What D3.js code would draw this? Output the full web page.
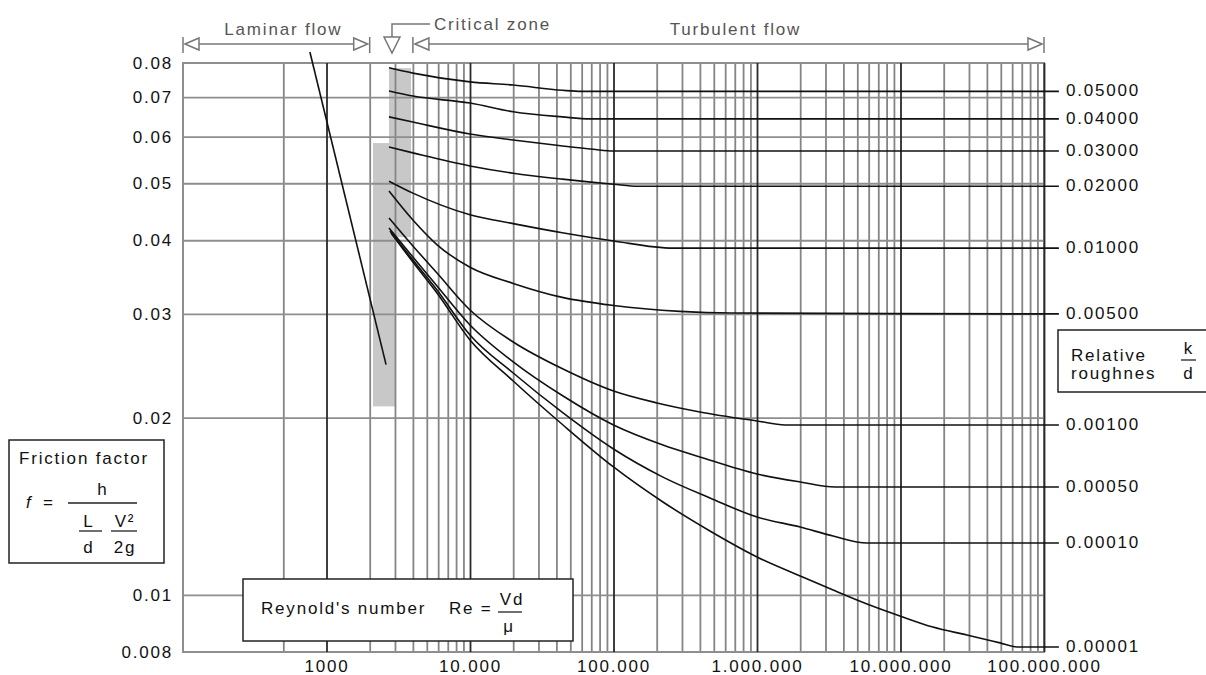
<!DOCTYPE html>
<html>
<head>
<meta charset="utf-8">
<script src="https://cdnjs.cloudflare.com/ajax/libs/d3/7.8.5/d3.min.js"></script>
<style>
  body { margin: 0; background: #fff; }
  svg text {
    font-family: "Liberation Sans", Arial, sans-serif;
    font-size: 17px;
    letter-spacing: 1.8px;
    fill: #111;
  }
  svg text.note { fill: #555; }
</style>
</head>
<body>
<div id="wrapper"></div>
<script>
// Moody diagram: friction factor against Reynold's number

const xTickValues = [1e3, 1e4, 1e5, 1e6, 1e7, 1e8]
const xTickLabels = ["1000", "10.000", "100.000", "1.000.000", "10.000.000", "100.000.000"]
const yTickValues = [0.008, 0.01, 0.02, 0.03, 0.04, 0.05, 0.06, 0.07, 0.08]
const yTickLabels = ["0.008", "0.01", "0.02", "0.03", "0.04", "0.05", "0.06", "0.07", "0.08"]
const gridDecades = [1e3, 1e4, 1e5, 1e6, 1e7]
const gridSteps = [2, 3, 4, 5, 6, 7, 8, 9]

const roughnessLabels = ["0.05000", "0.04000", "0.03000", "0.02000", "0.01000",
  "0.00500", "0.00100", "0.00050", "0.00010", "0.00001"]

// [Re, f]
const curve05000 = [[2726, 0.0785], [4000, 0.0769], [10000, 0.0743], [20000, 0.0734],
  [44000, 0.0719], [60000, 0.0716], [1.27e8, 0.0716]]
const curve04000 = [[2726, 0.0717], [4000, 0.0703], [10000, 0.0684], [20000, 0.0661],
  [44000, 0.0648], [68600, 0.0643], [1.27e8, 0.0643]]
const curve03000 = [[2726, 0.0648], [4000, 0.0635], [10000, 0.0606], [20000, 0.0592],
  [40400, 0.0580], [72000, 0.0571], [100000, 0.0567], [1.27e8, 0.0567]]
const curve02000 = [[2726, 0.0576], [4000, 0.0563], [10000, 0.0535], [20000, 0.0520],
  [44000, 0.0508], [100000, 0.0498], [148000, 0.0494], [1.27e8, 0.0494]]
const curve01000 = [[2726, 0.0504], [4000, 0.0481], [10000, 0.0442], [20000, 0.0427],
  [44000, 0.0412], [100000, 0.0399], [260000, 0.0388], [1.27e8, 0.0388]]
const curve00500 = [[2726, 0.0485], [4000, 0.0433], [5900, 0.0393], [10000, 0.0360],
  [20000, 0.0338], [44000, 0.0320], [100000, 0.0310], [290000, 0.0303],
  [670000, 0.0301], [1.27e8, 0.0300]]
const curve00100 = [[2726, 0.04365], [4000, 0.03913], [5890, 0.03520], [10000, 0.03046],
  [20000, 0.02688], [44500, 0.02418], [100000, 0.02219], [201000, 0.02118],
  [400000, 0.02045], [1000000, 0.01974], [1570000, 0.01943], [1.27e8, 0.01943]]
const curve00050 = [[2726, 0.04197], [4000, 0.03747], [5890, 0.03346], [10000, 0.02873],
  [20000, 0.02487], [44500, 0.02176], [100000, 0.01943], [221000, 0.01797],
  [400000, 0.01715], [1000000, 0.01604], [2000000, 0.01555], [3500000, 0.01525],
  [1.27e8, 0.01525]]
const curve00010 = [[2770, 0.04148], [4000, 0.03703], [5890, 0.03294], [10000, 0.02762],
  [20000, 0.02381], [44500, 0.02037], [100000, 0.01769], [221000, 0.01585],
  [470000, 0.01461], [1000000, 0.01356], [2000000, 0.01304], [3390000, 0.01259],
  [5840000, 0.01225], [1.27e8, 0.01225]]
const curve00001 = [[2816, 0.04116], [4000, 0.03674], [5890, 0.03255], [10000, 0.02709],
  [20000, 0.02308], [44500, 0.01943], [100000, 0.01649], [221000, 0.01438],
  [470000, 0.01284], [1000000, 0.01160], [2000000, 0.01077], [3390000, 0.01019],
  [5840000, 0.00965], [9900000, 0.00921], [16800000, 0.00882], [29000000, 0.00855],
  [49400000, 0.00829], [64800000, 0.00816], [1.27e8, 0.00816]]

const laminar = [[766, 0.0835], [2600, 0.0246]]

// [Re from, Re to, f low, f high]
const criticalZones = [[2110, 3050, 0.0209, 0.0585], [2726, 3880, 0.0405, 0.0784]]

const flowRegions = [
  {label: "Laminar flow", from: 100, to: 2000},
  {label: "Turbulent flow", from: 4000, to: 1e8},
]
const criticalAt = 2860

function drawChart() {

  // 1. Dimensions
  let dimensions = {
    width: 1206,
    height: 675,
    margin: {top: 63, right: 162, bottom: 23, left: 183},
  }
  dimensions.boundedWidth = dimensions.width - dimensions.margin.left - dimensions.margin.right
  dimensions.boundedHeight = dimensions.height - dimensions.margin.top - dimensions.margin.bottom

  // 2. Canvas
  const wrapper = d3.select("#wrapper")
    .append("svg")
      .attr("width", dimensions.width)
      .attr("height", dimensions.height)

  const bounds = wrapper.append("g")
      .attr("transform", `translate(${dimensions.margin.left},${dimensions.margin.top})`)

  // 3. Scales
  const xScale = d3.scaleLog()
    .domain([100, 1e8])
    .range([0, dimensions.boundedWidth])

  const yScale = d3.scaleLog()
    .domain([0.008, 0.08])
    .range([dimensions.boundedHeight, 0])

  // 4. Critical zone shading (under the grid)
  bounds.selectAll(".zone")
    .data(criticalZones)
    .join("rect")
      .attr("class", "zone")
      .attr("x", d => xScale(d[0]))
      .attr("width", d => xScale(d[1]) - xScale(d[0]))
      .attr("y", d => yScale(d[3]))
      .attr("height", d => yScale(d[2]) - yScale(d[3]))
      .attr("fill", "#c8c8c8")

  // 5. Grid
  const minorValues = [500].concat(d3.merge(gridDecades.map(d => gridSteps.map(s => s * d))))

  const vGrid = bounds.append("g")
      .attr("transform", `translate(0,${dimensions.boundedHeight})`)
      .call(d3.axisBottom(xScale).tickValues(minorValues).tickSize(-dimensions.boundedHeight).tickFormat(""))
  vGrid.select(".domain").remove()
  vGrid.selectAll("line").attr("stroke", "#858585").attr("stroke-width", 1.8)

  const hGrid = bounds.append("g")
      .call(d3.axisLeft(yScale).tickValues(yTickValues.slice(1, -1)).tickSize(-dimensions.boundedWidth).tickFormat(""))
  hGrid.select(".domain").remove()
  hGrid.selectAll("line").attr("stroke", "#8e8e8e").attr("stroke-width", 1.9)

  bounds.append("rect")
      .attr("width", dimensions.boundedWidth)
      .attr("height", dimensions.boundedHeight)
      .attr("fill", "none")
      .attr("stroke", "#8e8e8e")
      .attr("stroke-width", 2)

  const decadeGrid = bounds.append("g")
      .attr("transform", `translate(0,${dimensions.boundedHeight})`)
      .call(d3.axisBottom(xScale).tickValues(xTickValues).tickSize(-dimensions.boundedHeight).tickFormat(""))
  decadeGrid.select(".domain").remove()
  decadeGrid.selectAll("line").attr("stroke", "#2a2a2a").attr("stroke-width", 1.8)

  // 6. Curves
  const lineGenerator = d3.line()
    .x(d => xScale(d[0]))
    .y(d => yScale(d[1]))
    .curve(d3.curveMonotoneX)

  const curves = [curve05000, curve04000, curve03000, curve02000, curve01000,
    curve00500, curve00100, curve00050, curve00010, curve00001]

  bounds.selectAll(".curve")
    .data(curves)
    .join("path")
      .attr("class", "curve")
      .attr("d", lineGenerator)
      .attr("fill", "none")
      .attr("stroke", "#111")
      .attr("stroke-width", 1.6)

  bounds.append("path")
      .attr("d", d3.line().x(d => xScale(d[0])).y(d => yScale(d[1]))(laminar))
      .attr("fill", "none")
      .attr("stroke", "#111")
      .attr("stroke-width", 1.6)

  bounds.selectAll(".rough-label")
    .data(curves)
    .join("text")
      .attr("class", "rough-label")
      .attr("x", d => xScale(d[d.length - 1][0]) + 7)
      .attr("y", d => yScale(d[d.length - 1][1]))
      .attr("dy", "0.3em")
      .text((d, i) => roughnessLabels[i])

  // 7. Axes labels
  const xAxis = bounds.append("g")
      .attr("transform", `translate(0,${dimensions.boundedHeight})`)
      .call(d3.axisBottom(xScale).tickValues(xTickValues).tickFormat((d, i) => xTickLabels[i]).tickSize(0).tickPadding(8))
  xAxis.select(".domain").remove()

  const yAxis = bounds.append("g")
      .call(d3.axisLeft(yScale).tickValues(yTickValues).tickFormat((d, i) => yTickLabels[i]).tickSize(0).tickPadding(10))
  yAxis.select(".domain").remove()

  // 8. Flow regime markers on top
  const top = wrapper.append("g")
      .attr("transform", `translate(${dimensions.margin.left},0)`)
  const arrowY = 44

  const arrowEnd = (x, dir) => {
    top.append("line")
        .attr("x1", x).attr("x2", x).attr("y1", 37).attr("y2", 53)
        .attr("stroke", "#777").attr("stroke-width", 1.5)
    top.append("polygon")
        .attr("points", [[x - dir * 2, arrowY], [x - dir * 16, arrowY - 6], [x - dir * 16, arrowY + 6]].join(" "))
        .attr("fill", "#fff").attr("stroke", "#777").attr("stroke-width", 1.5)
  }

  flowRegions.forEach(r => {
    const x0 = xScale(r.from)
    const x1 = xScale(r.to)
    top.append("line")
        .attr("x1", x0 + 16).attr("x2", x1 - 16)
        .attr("y1", arrowY).attr("y2", arrowY)
        .attr("stroke", "#777").attr("stroke-width", 1.5)
    arrowEnd(x0, -1)
    arrowEnd(x1, 1)
    top.append("text")
        .attr("class", "note")
        .attr("x", (x0 + x1) / 2 + 7)
        .attr("y", 35)
        .attr("text-anchor", "middle")
        .text(r.label)
  })

  const cx = xScale(criticalAt)
  top.append("polygon")
      .attr("points", [[cx - 8, 37], [cx + 8, 37], [cx, 53]].join(" "))
      .attr("fill", "#fff").attr("stroke", "#777").attr("stroke-width", 1.5)
  top.append("polyline")
      .attr("points", [[cx, 37], [cx, 24], [cx + 38, 24]].join(" "))
      .attr("fill", "none").attr("stroke", "#777").attr("stroke-width", 1.5)
  top.append("text")
      .attr("class", "note")
      .attr("x", cx + 42)
      .attr("y", 24)
      .attr("dy", "0.35em")
      .text("Critical zone")

  // 9. Boxes
  const box = (x, y, w, h) => wrapper.append("rect")
      .attr("x", x).attr("y", y).attr("width", w).attr("height", h)
      .attr("fill", "#fff").attr("stroke", "#222").attr("stroke-width", 1.5)
  const bar = (x1, x2, y) => wrapper.append("line")
      .attr("x1", x1).attr("x2", x2).attr("y1", y).attr("y2", y)
      .attr("stroke", "#222").attr("stroke-width", 1.3)
  const label = (x, y, t, anchor = "start") => wrapper.append("text")
      .attr("x", x).attr("y", y).attr("text-anchor", anchor).text(t)

  // friction factor
  box(9, 440, 155, 123)
  label(19, 464, "Friction factor")
  label(26, 508, "f").style("font-style", "italic")
  label(43, 508, "=")
  label(103, 495, "h", "middle")
  bar(68, 137, 503)
  label(89, 527, "L", "middle")
  bar(79, 102, 531)
  label(89, 553, "d", "middle")
  label(125, 527, "V²", "middle")
  bar(111, 137, 531)
  label(125, 553, "2g", "middle")

  // Reynold's number
  box(243, 579, 330, 62)
  label(261, 614, "Reynold's number")
  label(449, 614, "Re =")
  label(512, 605, "Vd", "middle")
  bar(498, 522, 612)
  label(509, 632, "μ", "middle")

  // relative roughness
  box(1058, 330, 160, 62)
  label(1071, 361, "Relative")
  label(1071, 379, "roughnes")
  label(1189, 354, "k", "middle")
  bar(1181, 1196, 360)
  label(1189, 379, "d", "middle")
}
drawChart()
</script>
</body>
</html>
